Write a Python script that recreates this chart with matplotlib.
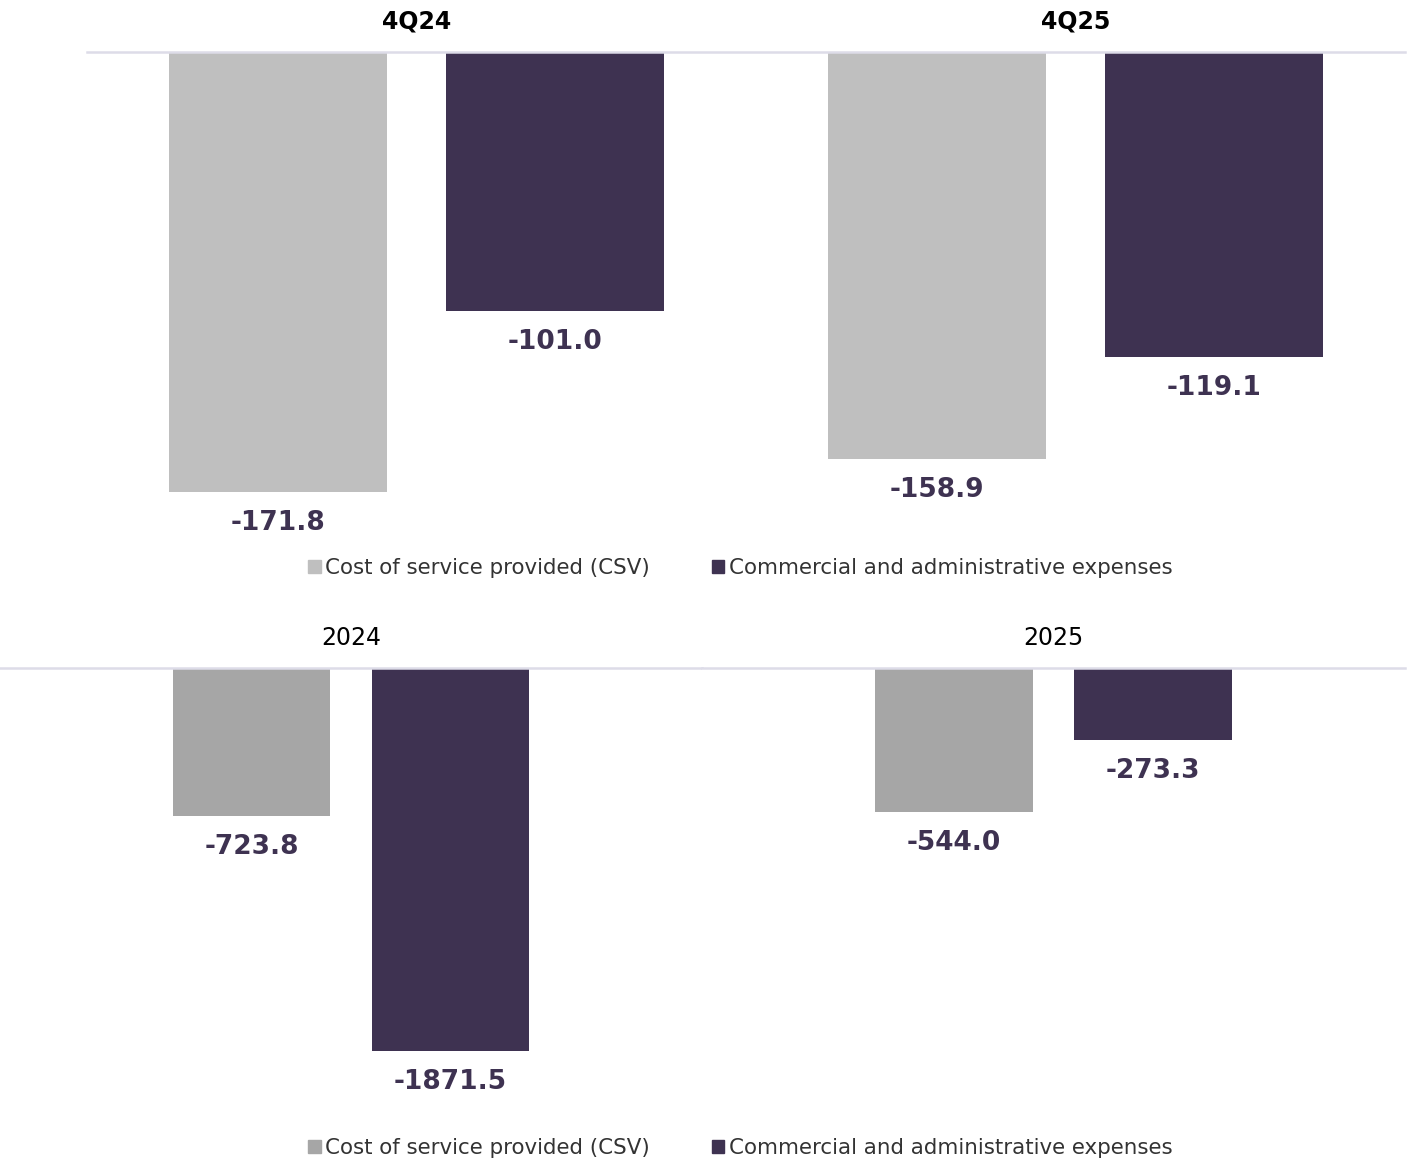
import matplotlib
matplotlib.use("Agg")
import matplotlib.pyplot as plt
from matplotlib.patches import Patch
import numpy as np

# ---------------------------------------------------------------- data
series = ["Cost of service provided (CSV)", "Commercial and administrative expenses"]
quarters = ["4Q24", "4Q25"]
q_csv = [-171.8, -158.9]
q_cae = [-101.0, -119.1]
years = ["2024", "2025"]
y_csv = [-723.8, -544.0]
y_cae = [-1871.5, -273.3]

PURPLE = "#3e3251"
GREY_TOP = "#bfbfbf"
GREY_BOT = "#a6a6a6"
LINE = "#dddce8"

W, H = 1408, 1168
plt.rcParams.update({"font.family": "DejaVu Sans"})
fig = plt.figure(figsize=(W / 100, H / 100), dpi=100)

def box(l, t, r, b):
    return [l / W, 1 - b / H, (r - l) / W, (b - t) / H]

def style(ax):
    for s in ("left", "right", "bottom"):
        ax.spines[s].set_visible(False)
    ax.spines["top"].set_color(LINE)
    ax.spines["top"].set_linewidth(1.8)
    ax.set_yticks([])
    ax.xaxis.tick_top()
    ax.tick_params(axis="x", length=0, pad=13)

def label(ax, x, v):
    ax.annotate(f"{v:.1f}", (x, v), xytext=(0, -13), textcoords="offset points",
                ha="center", va="top", fontsize=19, fontweight="bold", color=PURPLE)

# ---------------------------------------------------------------- top panel
ax = fig.add_axes(box(87, 52, 1405, 540))
x = np.arange(len(quarters))
off, bw = 0.21, 0.33
ax.bar(x - off, q_csv, bw, color=GREY_TOP)
ax.bar(x + off, q_cae, bw, color=PURPLE)
for i in range(len(quarters)):
    label(ax, x[i] - off, q_csv[i])
    label(ax, x[i] + off, q_cae[i])
ax.set_xlim(-0.5, 1.5); ax.set_ylim(-190.6, 0)
style(ax)
ax.set_xticks(x); ax.set_xticklabels(quarters, fontsize=17, fontweight="bold")

# ---------------------------------------------------------------- bottom panel
# each year drawn on its own axis scale, as in the source
for i, (l, r, lo) in enumerate([(0, 702, -2060), (702, 1405, -1595)]):
    a = fig.add_axes(box(l, 668, r, 1090))
    a.bar(-0.1415, y_csv[i], 0.224, color=GREY_BOT)
    a.bar(0.1415, y_cae[i], 0.224, color=PURPLE)
    label(a, -0.1415, y_csv[i])
    label(a, 0.1415, y_cae[i])
    a.set_xlim(-0.5, 0.5); a.set_ylim(lo, 0)
    style(a)
    a.set_xticks([0]); a.set_xticklabels([years[i]], fontsize=17)

# ---------------------------------------------------------------- legends
for ypx, grey in [(568, GREY_TOP), (1148, GREY_BOT)]:
    handles = [Patch(color=grey), Patch(color=PURPLE)]
    fig.legend(handles, series, loc="center", ncol=2, frameon=False,
               bbox_to_anchor=(740 / W, 1 - ypx / H), fontsize=15.4,
               handlelength=0.6, handleheight=0.6, handletextpad=0.2,
               columnspacing=2.9, labelcolor="#333333")

fig.savefig("out.png", dpi=100)
